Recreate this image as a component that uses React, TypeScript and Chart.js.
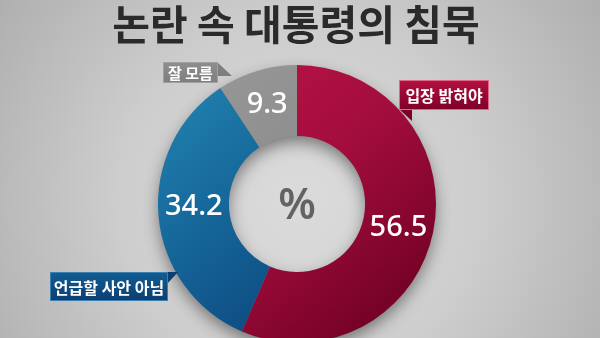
import React, { useEffect, useRef } from 'react';
import { Chart, registerables } from 'chart.js';

Chart.register(...registerables);

// ---- data ----
const TITLE = '논란 속 대통령의 침묵';
const CATEGORIES = ['입장 밝혀야', '언급할 사안 아님', '잘 모름'];
const VALUES = [56.5, 34.2, 9.3];
const UNIT = '%';

// ---- styling ----
const SEGMENT_GRADIENTS = [
  ['#c0164c', '#a20d3c', '#6d0022'],
  ['#2388b4', '#135f94', '#0a386d'],
  ['#9a9a9a', '#8c8c8c', '#858585'],
];
const BOX_COLORS = [
  ['#b3113f', '#7e0029', '#e0668a'],
  ['#125d93', '#0b3e72', '#3a7fb0'],
  ['#8e8e8e', '#7e7e7e', '#a0a0a0'],
];
// callout boxes, offsets from the doughnut centre: [left, top, width, height]
const BOX_LAYOUT = [
  [102, -124, 90, 30],
  [-247, 68, 118, 29],
  [-134, -142, 55, 21],
];
const LABEL_NUDGE_Y = [3, -6, 0];
const KR_FONT = '"Noto Sans CJK KR", "Noto Sans", sans-serif';
const NUM_FONT = '"Noto Sans", "Open Sans", sans-serif';

function drawTail(ctx: CanvasRenderingContext2D, i: number, x: number, y: number, w: number, h: number) {
  ctx.beginPath();
  if (i === 0) {
    // tail under the lower-left corner
    ctx.moveTo(x, y + h - 1);
    ctx.lineTo(x + 13, y + h - 1);
    ctx.lineTo(x + 13, y + h + 11);
  } else if (i === 1) {
    // tail off the upper-right corner
    ctx.moveTo(x + w - 1, y);
    ctx.lineTo(x + w + 10, y);
    ctx.lineTo(x + w - 1, y + 12);
  } else {
    ctx.moveTo(x + w - 1, y);
    ctx.lineTo(x + w + 14, y + 14);
    ctx.lineTo(x + w - 1, y + 14);
  }
  ctx.closePath();
  ctx.fill();
}

const backgroundPlugin = {
  id: 'bgPanel',
  beforeDraw(chart: any) {
    const { ctx, width, height } = chart;
    ctx.save();
    const g = ctx.createRadialGradient(300, 200, 20, 300, 200, 380);
    g.addColorStop(0, '#dadada');
    g.addColorStop(0.45, '#cdcdcd');
    g.addColorStop(1, '#acacac');
    ctx.fillStyle = g;
    ctx.fillRect(0, 0, width, height);

    // title
    ctx.fillStyle = '#2a2a2a';
    ctx.font = `bold 41px ${KR_FONT}`;
    ctx.textAlign = 'center';
    ctx.textBaseline = 'middle';
    ctx.fillText(TITLE, 296, 24);
    ctx.restore();
  },
};

const ringShadowPlugin = {
  id: 'ringShadow',
  beforeDatasetsDraw(chart: any) {
    const arc = chart.getDatasetMeta(0).data[0];
    if (!arc) return;
    const { x, y, outerRadius, innerRadius } = arc.getProps(['x', 'y', 'outerRadius', 'innerRadius'], true);
    const { ctx } = chart;
    ctx.save();
    ctx.shadowColor = 'rgba(0,0,0,0.45)';
    ctx.shadowBlur = 16;
    ctx.shadowOffsetY = 7;
    ctx.fillStyle = '#777';
    ctx.beginPath();
    ctx.arc(x, y, outerRadius - 1, 0, Math.PI * 2);
    ctx.arc(x, y, innerRadius + 1, 0, Math.PI * 2, true);
    ctx.fill();
    ctx.restore();
  },
};

const labelsPlugin = {
  id: 'ringLabels',
  afterDatasetsDraw(chart: any) {
    const { ctx } = chart;
    const meta = chart.getDatasetMeta(0);
    const first = meta.data[0];
    if (!first) return;
    const cx = first.x;
    const cy = first.y;
    ctx.save();

    // values inside the segments
    ctx.fillStyle = '#ffffff';
    ctx.font = `500 29px ${NUM_FONT}`;
    ctx.textAlign = 'center';
    ctx.textBaseline = 'middle';
    meta.data.forEach((arc: any, i: number) => {
      const p = arc.tooltipPosition();
      ctx.fillText(String(VALUES[i]), p.x, p.y + LABEL_NUDGE_Y[i]);
    });

    // unit in the hole
    ctx.fillStyle = '#636363';
    ctx.font = `600 43px ${NUM_FONT}`;
    ctx.fillText(UNIT, cx, cy + 3);

    // category callouts
    CATEGORIES.forEach((name, i) => {
      const [dx, dy, w, h] = BOX_LAYOUT[i];
      const x = cx + dx;
      const y = cy + dy;
      const [c1, c2, edge] = BOX_COLORS[i];
      const g = ctx.createLinearGradient(x, y, x, y + h);
      g.addColorStop(0, c1);
      g.addColorStop(1, c2);
      ctx.fillStyle = g;
      ctx.fillRect(x, y, w, h);
      ctx.fillStyle = c2;
      drawTail(ctx, i, x, y, w, h);
      ctx.strokeStyle = edge;
      ctx.lineWidth = 1;
      ctx.strokeRect(x + 0.5, y + 0.5, w - 1, h - 1);
      ctx.fillStyle = '#ffffff';
      ctx.font = `bold ${i === 2 ? 15 : 16}px ${KR_FONT}`;
      ctx.textAlign = 'center';
      ctx.textBaseline = 'middle';
      ctx.fillText(name, x + w / 2, y + h / 2 + 1);
    });
    ctx.restore();
  },
};

export default function App() {
  const canvasRef = useRef<HTMLCanvasElement | null>(null);

  useEffect(() => {
    const canvas = canvasRef.current;
    if (!canvas) return;
    const chart = new Chart(canvas, {
      type: 'doughnut',
      data: {
        labels: CATEGORIES,
        datasets: [
          {
            data: VALUES,
            borderWidth: 0,
            backgroundColor: (context: any) => {
              const c = context.chart;
              const area = c.chartArea;
              const stops = SEGMENT_GRADIENTS[context.dataIndex % SEGMENT_GRADIENTS.length];
              if (!area) return stops[1];
              const g = c.ctx.createLinearGradient(area.left, area.top, area.right * 0.9, area.bottom);
              g.addColorStop(0, stops[0]);
              g.addColorStop(0.5, stops[1]);
              g.addColorStop(1, stops[2]);
              return g;
            },
          },
        ],
      },
      options: {
        responsive: false,
        animation: false,
        cutout: '49%',
        rotation: 0,
        layout: { padding: { left: 158, right: 164, top: 65, bottom: 77 } },
        plugins: {
          legend: { display: false },
          tooltip: { enabled: false },
          title: { display: false },
        },
      },
      plugins: [backgroundPlugin, ringShadowPlugin, labelsPlugin],
    });
    return () => chart.destroy();
  }, []);

  return (
    <div style={{ position: 'fixed', left: 0, top: 0, width: 600, height: 338, overflow: 'hidden', background: '#bdbdbd' }}>
      <canvas ref={canvasRef} width={600} height={420} style={{ display: 'block', width: 600, height: 420 }} />
    </div>
  );
}
